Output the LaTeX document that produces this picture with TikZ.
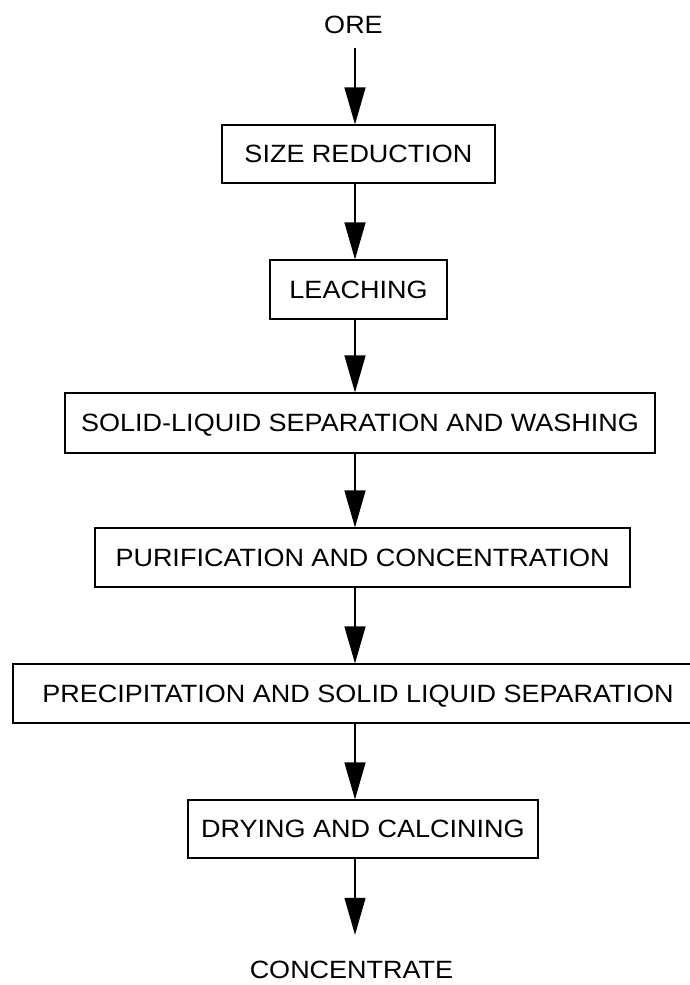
\documentclass[tikz,border=0pt]{standalone}
\usepackage{fontspec}
\setmainfont{Liberation Sans}[FakeStretch=1.08]
\usetikzlibrary{arrows.meta}

\begin{document}
\begin{tikzpicture}[x=1pt,y=-1pt,
  caps/.style={inner sep=0pt, text height=17.9pt, text depth=0pt,
    font=\fontsize{25}{30}\selectfont},
  stage/.style={caps, draw, line width=1.1pt},
  feed/.style={line width=1.2pt, -{Triangle[length=37pt,width=21pt]}}]

% page frame
\useasboundingbox (0,0) rectangle (690,985);

% vertical axis shared by all flow arrows
\coordinate (ax) at (355,0);

% end terms
\node[caps] (ore)  at (353.5,24.5) {ORE};
\node[caps] (conc) at (351.5,970)  {CONCENTRATE};

% process stages
\node[stage, minimum width=273pt, minimum height=58pt] (sr)   at (358.5,154)   {SIZE REDUCTION};
\node[stage, minimum width=177pt, minimum height=59pt] (lch)  at (358.5,289.5) {LEACHING};
\node[stage, minimum width=590pt, minimum height=60pt] (slsw) at (360,423)     {SOLID-LIQUID SEPARATION AND WASHING};
\node[stage, minimum width=535pt, minimum height=59pt] (pc)   at (362.5,557.5) {PURIFICATION AND CONCENTRATION};
\node[stage, minimum width=690pt, minimum height=59pt] (pss)  at (358,693.5)   {PRECIPITATION AND SOLID LIQUID SEPARATION};
\node[stage, minimum width=350pt, minimum height=58pt] (dc)   at (363,829)     {DRYING AND CALCINING};

% flow arrows
\draw[feed, shorten <=14pt] (ore.south -| ax) -- (sr.north -| ax);
\draw[feed] (sr.south -| ax)   -- (lch.north -| ax);
\draw[feed] (lch.south -| ax)  -- (slsw.north -| ax);
\draw[feed] (slsw.south -| ax) -- (pc.north -| ax);
\draw[feed] (pc.south -| ax)   -- (pss.north -| ax);
\draw[feed] (pss.south -| ax)  -- (dc.north -| ax);
\draw[feed, shorten >=26pt] (dc.south -| ax) -- (conc.north -| ax);
\end{tikzpicture}
\end{document}
